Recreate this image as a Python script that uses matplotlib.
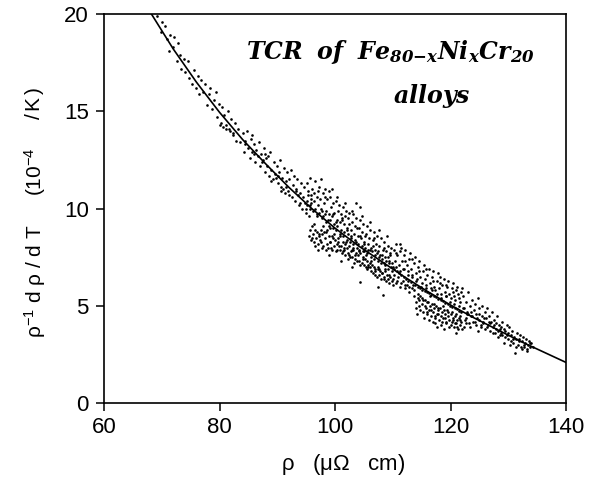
import io
import matplotlib
matplotlib.use("Agg")
import matplotlib.pyplot as plt

plt.rcParams['mathtext.fontset'] = 'custom'
plt.rcParams['mathtext.rm'] = 'Liberation Sans'
plt.rcParams['mathtext.it'] = 'Liberation Sans:italic'
plt.rcParams['mathtext.bf'] = 'Liberation Sans:bold'

# fitted curve
curve_rho = [68, 72, 76, 80, 84, 88, 92, 96, 100, 104, 108, 112, 116, 120, 124, 128, 132, 136, 140]
curve_tcr = [20.1, 18.2, 16.5, 14.95, 13.55, 12.3, 11.1, 10.0, 9.0, 8.1, 7.3, 6.5, 5.75, 5.05, 4.4, 3.8, 3.2, 2.65, 2.1]

rho_a = [69.2, 69.8, 70.1, 70.6, 70.9, 71.3, 71.5, 71.9, 72.2, 72.6, 72.9, 73.1, 73.4, 73.8, 74.1, 74.5, 74.8, 75.2, 75.5, 75.9,
         76.2, 76.4, 76.8, 77.1, 77.5, 77.8, 78.2, 78.4, 78.7, 79.1, 79.4, 79.6, 79.9, 80.2, 80.5, 80.8, 81.1, 81.4, 81.7, 82.0,
         82.3, 82.6, 82.9, 83.2, 83.5]
tcr_a = [19.9, 19.1, 19.6, 19.4, 18.7, 18.1, 18.9, 18.3, 18.8, 17.6, 18.5, 17.9, 17.2, 17.7, 17.0, 17.6, 16.7, 16.4, 17.1, 16.2,
         16.8, 15.9, 16.6, 16.0, 16.4, 15.3, 15.9, 16.2, 15.1, 15.6, 16.0, 14.7, 15.4, 14.4, 15.2, 14.8, 14.3, 15.0, 14.1, 14.6,
         13.8, 14.4, 13.5, 14.1, 13.4]

rho_b = [84.0, 84.2, 84.5, 84.7, 85.0, 85.2, 85.4, 85.7, 85.9, 86.1, 86.3, 86.6, 86.8, 87.0, 87.2, 87.5, 87.7, 87.9, 88.1, 88.3,
         88.6, 88.8, 89.0, 89.2, 89.4, 89.6, 89.9, 90.1, 90.3, 90.5, 90.7, 90.9, 91.1, 91.3, 91.5, 91.7, 91.9, 92.1, 92.3, 92.5,
         92.7, 92.9, 93.1, 93.3, 93.5, 93.7, 93.9, 94.1, 94.3, 94.5, 94.7, 94.9, 95.1, 95.3, 95.5, 95.7, 95.9, 84.4, 86.0, 87.4,
         88.4, 89.8, 91.0, 92.0, 93.2, 94.0, 95.0, 85.6, 87.8, 90.2, 91.6, 93.6, 94.8, 88.9, 90.6, 80.0, 80.6, 81.2, 81.8, 82.4]
tcr_b = [13.9, 12.9, 13.3, 14.0, 13.1, 12.6, 13.6, 12.9, 13.3, 12.4, 13.0, 12.7, 13.4, 12.2, 12.8, 12.5, 13.1, 11.9, 12.6, 12.2,
         11.7, 12.9, 12.0, 11.5, 12.4, 11.8, 12.2, 11.3, 11.9, 12.5, 11.1, 11.6, 12.1, 10.8, 11.4, 11.9, 10.9, 11.5, 12.0, 10.6,
         11.2, 11.7, 10.4, 11.0, 11.5, 10.2, 10.8, 11.3, 10.0, 10.6, 11.1, 9.8, 10.4, 10.9, 9.6, 10.2, 10.7, 13.5, 12.8, 12.4,
         12.7, 11.6, 11.0, 10.7, 10.9, 10.3, 10.0, 13.8, 12.8, 11.7, 11.1, 10.7, 10.3, 11.4, 10.9, 14.3, 14.2, 14.1, 14.0, 13.9]

rho_c = [95.2, 95.4, 95.7, 95.9, 96.1, 96.3, 96.5, 96.8, 97.0, 97.2, 97.4, 97.6, 97.9, 98.1, 98.3, 98.5, 98.7, 98.9, 99.1, 99.3,
         99.5, 99.7, 99.9, 100.1, 100.3, 100.5, 100.7, 100.9, 101.1, 101.3, 101.5, 101.7, 101.9, 102.1, 102.3, 102.5, 102.7, 102.9,
         103.1, 103.3, 103.5, 103.7, 103.9, 104.1, 104.3, 104.5, 104.7, 104.9, 105.1, 105.3, 105.5, 105.7, 105.9, 106.1, 106.3,
         106.5, 106.7, 106.9, 107.1, 107.3, 107.5, 107.7, 107.9, 108.1, 108.3, 108.5, 108.7, 108.9, 109.1, 109.3, 109.5, 109.7,
         109.9, 103.6, 104.4, 99.4, 97.5]
tcr_c = [11.3, 10.7, 11.6, 10.5, 11.0, 10.4, 11.4, 10.6, 10.2, 11.1, 10.5, 10.0, 10.8, 10.3, 11.0, 9.9, 10.5, 9.7, 10.6, 10.1,
         9.6, 10.3, 9.8, 10.4, 9.4, 9.9, 10.2, 9.3, 9.7, 10.1, 9.2, 9.6, 9.9, 9.0, 9.5, 9.8, 8.9, 9.3,
         9.7, 8.7, 9.1, 9.5, 8.6, 9.0, 9.4, 8.5, 8.8, 9.2, 8.3, 8.7, 9.1, 8.2, 8.5, 8.9, 8.0,
         8.4, 8.8, 7.9, 8.2, 8.6, 7.8, 8.1, 8.5, 7.6, 7.9, 8.3, 7.5, 7.8, 8.1, 7.3, 7.7, 8.0,
         7.2, 10.3, 10.1, 11.0, 11.5]

rho_d = [95.1, 95.6, 95.8, 96.2, 96.6, 96.9, 97.3, 97.7, 98.0, 98.4, 98.8, 99.0, 99.2, 99.6, 99.8, 100.2, 100.4, 100.8, 101.0,
         101.4, 101.6, 102.0, 102.2, 102.6, 102.8, 103.2, 103.4, 103.8, 104.0, 104.2, 104.6, 105.0, 105.2, 105.6, 105.8, 106.2,
         106.4, 106.8, 107.0, 107.4, 107.6, 108.0, 108.2, 108.6, 108.8, 109.2, 109.4, 109.8, 110.0]
tcr_d = [10.2, 10.0, 10.3, 9.9, 10.0, 9.7, 9.8, 9.5, 9.6, 9.3, 9.4, 9.1, 9.4, 9.0, 9.2, 8.9, 9.1, 8.7, 8.9,
         8.6, 8.8, 8.4, 8.7, 8.3, 8.5, 8.2, 8.4, 8.0, 8.2, 7.9, 8.1, 7.8, 8.0, 7.7, 7.9, 7.5,
         7.8, 7.4, 7.6, 7.3, 7.5, 7.2, 7.4, 7.1, 7.3, 6.9, 7.2, 6.8, 7.0]

rho_e = [95.5, 95.7, 95.8, 96.0, 96.2, 96.4, 96.5, 96.7, 96.9, 97.1, 97.3, 97.5, 97.6, 97.8, 98.0, 98.2, 98.4, 98.6, 98.8, 99.0,
         99.2, 99.4, 99.6, 99.8, 100.0, 100.2, 100.4, 100.6, 100.8, 101.0, 101.2, 101.4, 101.6, 101.8, 102.0, 102.2, 102.4, 102.6,
         102.8, 103.0, 103.2, 103.4, 103.6, 103.8, 104.0, 104.2, 104.4, 104.6, 104.8, 105.0, 105.2, 105.4, 105.6, 105.8, 106.0,
         106.2, 106.4, 106.6, 106.8, 107.0, 107.2, 107.4, 107.6, 107.8, 108.0, 108.2, 108.4, 108.6, 108.8, 109.0, 109.2, 109.4,
         109.6, 109.8, 110.0, 97.0, 99.0, 101.0, 103.0, 104.4, 107.5, 108.3]
tcr_e = [8.6, 8.9, 8.4, 9.1, 8.7, 8.3, 8.9, 8.5, 8.8, 8.2, 8.6, 8.9, 8.3, 8.7, 8.1, 8.5, 8.8, 8.2, 8.0, 8.6,
         8.3, 7.9, 8.5, 8.1, 8.4, 7.8, 8.2, 8.5, 7.9, 8.1, 7.7, 8.3, 7.9, 7.6, 8.0, 7.7, 8.1, 7.5,
         7.8, 7.5, 7.9, 7.4, 7.7, 7.3, 7.6, 7.3, 7.7, 7.2, 7.5, 7.1, 7.4, 7.0, 7.3, 7.0, 7.2,
         6.8, 7.1, 6.7, 7.0, 6.8, 6.5, 6.9, 6.6, 6.8, 6.4, 6.7, 6.5, 6.8, 6.3, 6.6, 6.4, 6.2,
         6.5, 6.3, 6.1, 7.9, 7.6, 7.3, 7.0, 6.25, 6.0, 5.55]

rho_f = [110.2, 110.4, 110.6, 110.8, 111.0, 111.2, 111.4, 111.6, 111.8, 112.0, 112.2, 112.4, 112.6, 112.8, 113.0, 113.2, 113.4,
         113.6, 113.8, 114.0, 114.2, 114.4, 114.6, 114.8, 115.0, 115.2, 115.4, 115.6, 115.8, 116.0, 116.2, 116.4, 116.6, 116.8,
         117.0, 117.2, 117.4, 117.6, 117.8, 118.0, 118.2, 118.4, 118.6, 118.8, 119.0, 119.2, 119.4, 119.6, 119.8, 120.0, 120.2,
         120.4, 120.6, 120.8, 121.0, 121.2, 121.4, 121.6, 121.8, 122.0]
tcr_f = [7.9, 7.3, 8.2, 7.6, 7.1, 7.8, 8.0, 7.3, 6.9, 7.6, 7.9, 7.1, 6.8, 7.4, 7.7, 6.9, 6.6,
         7.2, 7.5, 6.7, 6.4, 7.0, 7.3, 6.5, 6.2, 6.8, 7.1, 6.4, 6.1, 6.6, 6.9, 6.2, 5.9, 6.5,
         6.8, 6.0, 5.8, 6.3, 6.7, 5.9, 6.5, 5.6, 6.1, 6.4, 5.7, 5.5, 6.0, 6.3, 5.6, 5.4, 5.9,
         6.2, 5.5, 5.3, 5.8, 6.0, 5.4, 5.2, 5.7, 5.9]

rho_g = [110.3, 110.7, 111.1, 111.5, 111.9, 112.3, 112.7, 113.1, 113.5, 113.9, 114.3, 114.7, 115.1, 115.5, 115.9, 116.3, 116.7,
         117.1, 117.5, 117.9, 118.3, 118.7, 119.1, 119.5, 119.9, 120.3, 120.7, 121.1, 121.5, 121.9]
tcr_g = [6.9, 6.8, 6.7, 6.6, 6.5, 6.4, 6.3, 6.25, 6.1, 6.1, 5.95, 5.9, 5.8, 5.75, 5.7, 5.65, 5.55,
         5.5, 5.45, 5.35, 5.3, 5.25, 5.15, 5.1, 5.0, 4.95, 4.9, 4.85, 4.75, 4.7]

rho_h = [110.1, 110.5, 110.9, 111.3, 111.7, 112.1, 112.5, 112.9, 113.3, 113.7, 114.0, 114.1, 114.3, 114.5, 114.6, 114.8, 115.0,
         115.1, 115.3, 115.5, 115.6, 115.8, 116.0, 116.1, 116.3, 116.5, 116.6, 116.8, 117.0, 117.1, 117.3, 117.5, 117.6, 117.8,
         118.0, 118.1, 118.3, 118.5, 118.6, 118.8, 119.0, 119.1, 119.3, 119.5, 119.6, 119.8, 120.0, 120.1, 120.3, 120.5, 120.6,
         120.8, 121.0, 121.1, 121.3, 121.5, 121.6, 121.8, 122.0, 116.9, 118.9, 117.7, 120.9]
tcr_h = [6.4, 6.2, 6.5, 6.0, 6.3, 5.9, 6.1, 5.7, 5.9, 5.5, 5.2, 4.9, 5.4, 5.0, 5.3, 4.8, 5.1,
         5.4, 4.7, 5.0, 5.3, 4.9, 4.6, 5.2, 4.8, 5.0, 4.5, 5.1, 4.7, 4.9, 4.4, 5.0, 4.6, 4.8,
         4.3, 4.9, 4.5, 4.7, 4.2, 4.8, 4.4, 4.6, 4.1, 4.5, 4.7, 4.3, 4.0, 4.6, 4.2, 4.4, 3.9,
         4.5, 4.1, 4.3, 3.8, 4.4, 4.0, 4.2, 3.8, 4.2, 3.8, 3.9, 3.6]

rho_i = [122.2, 122.4, 122.5, 122.7, 122.9, 123.0, 123.2, 123.4, 123.5, 123.7, 123.9, 124.0, 124.2, 124.4, 124.5, 124.7, 124.9,
         125.0, 125.2, 125.4, 125.5, 125.7, 125.9, 126.0, 126.2, 126.4, 126.5, 126.7, 126.9, 127.0, 127.2, 127.4, 127.5, 127.7,
         127.9, 128.0, 128.2, 128.4, 128.5, 128.7, 128.9, 129.0, 129.2, 129.4, 129.5, 129.7, 129.9, 130.0, 130.2, 130.4, 130.5,
         130.7, 130.9, 131.0, 131.2, 131.4, 131.5, 131.7, 131.9, 132.0, 132.2, 132.4, 132.5, 132.7, 132.9, 133.0, 133.2, 133.4,
         133.6, 133.8, 134.0, 134.3, 123.6, 124.6, 125.6, 126.6, 127.6, 128.6, 122.8, 124.8]
tcr_i = [5.5, 4.9, 4.3, 5.2, 4.6, 5.7, 4.1, 5.0, 4.5, 5.3, 4.2, 4.8, 5.1, 4.0, 4.6, 5.4, 4.3,
         4.9, 3.9, 4.5, 5.0, 4.2, 4.7, 3.8, 4.4, 4.9, 4.0, 4.5, 3.7, 4.2, 4.7, 3.9, 4.3, 3.6,
         4.1, 4.5, 3.7, 4.0, 3.5, 3.9, 4.2, 3.5, 3.8, 3.4, 3.7, 4.0, 3.3, 3.6, 3.9, 3.2, 3.5,
         3.7, 3.1, 3.4, 2.6, 3.3, 3.6, 3.0, 3.3, 3.5, 2.9, 3.2, 3.4, 2.9, 3.1, 3.3, 2.8, 3.0,
         3.2, 2.9, 3.1, 2.9, 4.7, 4.4, 4.1, 4.2, 4.0, 3.8, 4.7, 3.7]

rho_j = [96.3, 96.9, 97.4, 97.9, 98.3, 98.6, 99.1, 99.3, 99.8, 100.1, 100.6, 100.9, 101.2, 101.5, 101.9, 102.1, 102.4, 102.7,
         103.1, 103.3, 103.7, 104.1, 104.3, 104.8, 105.1, 105.4, 105.7, 106.1, 106.3, 106.6, 106.9, 107.3, 107.5, 107.8, 108.1,
         108.4, 108.7, 109.1, 109.3, 109.7, 110.2, 110.6, 110.8, 111.2, 111.5, 111.9, 112.2, 112.6, 112.9, 113.4, 113.6, 114.1,
         114.4, 114.9, 115.2, 115.7, 115.9, 116.4, 116.8, 117.2, 117.6, 117.9, 118.3, 118.7, 119.2, 119.4, 119.9, 120.2, 120.6,
         120.9, 121.4, 121.7, 122.1, 122.6, 123.1, 123.3, 123.8, 124.3, 124.9, 125.3, 125.8, 126.3, 126.8, 127.3, 127.8, 128.3,
         128.8, 129.3, 129.8, 130.3, 130.8, 131.3, 131.8, 132.3, 132.8, 133.3, 133.7]
tcr_j = [9.2, 9.6, 8.4, 9.1, 9.7, 8.9, 9.0, 8.0, 8.7, 9.3, 8.3, 8.6, 9.4, 8.0, 8.3, 8.9, 7.6, 8.6,
         8.0, 7.2, 8.3, 7.8, 8.6, 7.4, 8.2, 7.6, 7.1, 7.9, 7.3, 8.1, 6.9, 7.7, 7.0, 7.6, 6.7,
         7.2, 6.9, 7.5, 6.6, 7.0, 6.6, 7.0, 6.3, 6.8, 6.2, 6.9, 6.1, 6.6, 6.0, 6.5, 5.8, 6.3,
         5.6, 6.0, 5.3, 5.9, 5.2, 5.5, 5.8, 5.1, 5.6, 4.9, 5.4, 5.0, 5.5, 4.8, 5.2, 4.7, 5.1,
         4.6, 5.0, 4.5, 4.9, 4.4, 4.6, 3.9, 4.5, 4.2, 4.6, 4.0, 4.4, 3.9, 4.1, 3.6, 3.8, 3.4,
         3.6, 3.1, 3.5, 3.0, 3.3, 2.9, 3.2, 2.8, 3.0, 2.7, 3.1]

rho_k = [114.2, 114.7, 115.4, 115.9, 116.2, 116.7, 117.3, 117.4, 117.9, 118.4, 118.7, 119.2, 119.7, 120.4, 120.7, 121.2, 121.7,
         122.3, 122.6, 96.1, 96.6, 97.2, 97.7, 98.1, 98.5, 99.1, 99.5, 100.3, 100.7, 101.3, 101.7, 102.3, 102.9, 103.5, 104.3,
         104.9, 105.5, 106.1, 106.9, 107.7, 108.5]
tcr_k = [4.6, 5.5, 4.4, 4.7, 4.3, 4.8, 4.1, 4.5, 4.6, 4.0, 4.4, 4.2, 3.9, 4.3, 4.1, 3.9, 4.3,
         3.9, 4.1, 8.5, 8.1, 8.7, 8.0, 8.8, 7.9, 8.3, 8.6, 7.9, 8.1, 7.8, 8.2, 7.4, 7.9, 7.6, 7.1,
         7.8, 6.9, 7.0, 6.6, 6.9, 6.4]

rho_m = [96.4, 97.1, 97.8, 98.2, 98.9, 99.6, 100.4, 101.2, 101.8, 102.4, 103.0, 103.8, 104.6, 105.2, 106.0, 106.8, 107.6,
         108.4, 109.0, 109.6, 110.5, 111.3, 112.1, 113.3, 114.5, 115.7, 116.9, 118.1, 119.3, 120.5, 121.3]
tcr_m = [10.8, 10.9, 9.9, 10.6, 10.9, 9.7, 10.6, 9.5, 10.3, 9.2, 9.9, 9.0, 9.6, 8.6, 9.3, 8.5, 8.9,
         8.0, 8.6, 7.6, 7.7, 8.2, 7.3, 7.4, 6.8, 6.9, 6.3, 6.2, 6.1, 5.7, 5.6]

x_ticks = [60, 80, 100, 120, 140]
y_ticks = [0, 5, 10, 15, 20]

# bold-italic serif for the in-plot title, if mathtext supports it
try:
    from matplotlib.mathtext import math_to_image
    math_to_image(r'$\mathbfit{a}$', io.BytesIO(), format='png')
    bfit = r'\mathbfit'
except Exception:
    bfit = r'\mathit'

fig = plt.figure(figsize=(5.98, 4.78), dpi=100)
ax = fig.add_axes([104 / 598, 1 - 403.3 / 478, (566 - 104) / 598, (403.3 - 14) / 478])

for rx, ty in [(rho_a, tcr_a), (rho_b, tcr_b), (rho_c, tcr_c), (rho_d, tcr_d), (rho_e, tcr_e),
               (rho_f, tcr_f), (rho_g, tcr_g), (rho_h, tcr_h), (rho_i, tcr_i), (rho_j, tcr_j),
               (rho_k, tcr_k), (rho_m, tcr_m)]:
    ax.scatter(rx, ty, s=3.6, marker='o', color='black', linewidths=0, zorder=2)

ax.plot(curve_rho, curve_tcr, color='black', lw=1.2, zorder=3)

ax.set_xlim(60, 140)
ax.set_ylim(0, 20)
ax.set_xticks(x_ticks)
ax.set_yticks(y_ticks)
ax.tick_params(direction='out', length=6, width=1.1, labelsize=16)
ax.tick_params(axis='x', pad=4)
ax.tick_params(axis='y', pad=5)
for lab in ax.get_xticklabels() + ax.get_yticklabels():
    lab.set_family(['Liberation Sans', 'DejaVu Sans'])
for sp in ax.spines.values():
    sp.set_linewidth(1.2)

ax.set_xlabel(r'$\mathrm{\rho}\ \ \ (\mathrm{\mu\Omega}\ \ \ \mathrm{cm})$', fontsize=16)
ax.xaxis.set_label_coords(0.517, -0.125)

# y label, drawn in three parts with the spacing of the original
ylab_parts = [r'$\mathrm{\rho}^{-1}\ \mathrm{d}\ \mathrm{\rho}\ /\ \mathrm{d}\ \mathrm{T}$',
              r'$(\mathrm{10}^{-4}$',
              r'$/\,\mathrm{K}\,)$']
ylab_centres = [281.5, 172, 103]
for txt, yc in zip(ylab_parts, ylab_centres):
    fig.text(35 / 598, 1 - yc / 478, txt, rotation=90, ha='center', va='center', fontsize=15)

ax.text((390 - 104) / 462, (403.3 - 59) / 389.3,
        r'$' + bfit + r'{TCR\ \ of\ \ Fe_{80{-}x}Ni_xCr_{20}}$', transform=ax.transAxes,
        ha='center', va='baseline', fontsize=17, math_fontfamily='dejavuserif')
ax.text((432 - 104) / 462, (403.3 - 103) / 389.3, r'$' + bfit + r'{alloys}$', transform=ax.transAxes,
        ha='center', va='baseline', fontsize=17, math_fontfamily='dejavuserif')

fig.savefig('out.png', dpi=100)
